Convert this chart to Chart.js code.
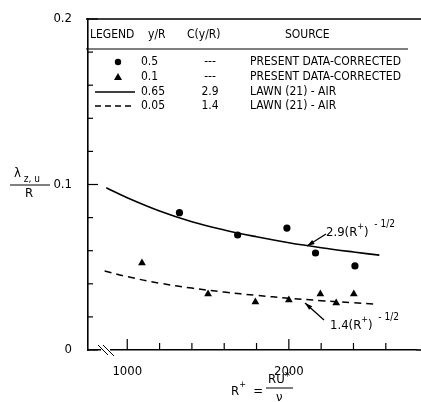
<!DOCTYPE html>
<html lang="en">
<head>
<meta charset="UTF-8" />
<title>Length scale vs R+</title>
<script src="https://cdn.jsdelivr.net/npm/chart.js"></script>
<style>
  html, body { margin: 0; padding: 0; background: #fff; }
  canvas { display: block; }
</style>
</head>
<body>
<canvas id="chart" width="421" height="402"></canvas>
<script>
  // values
  const circleX = [1323, 1683, 1988, 2165, 2409];
  const circleY = [0.083, 0.0695, 0.0737, 0.0586, 0.0508];

  const triangleX = [1091, 1500, 1793, 2000, 2195, 2293, 2402];
  const triangleY = [0.0526, 0.0338, 0.029, 0.0302, 0.0338, 0.0284, 0.0338];

  const solidX = [870, 1000, 1200, 1400, 1600, 1800, 2000, 2200, 2400, 2560];
  const solidY = [0.098, 0.092, 0.084, 0.0775, 0.0725, 0.0684, 0.0648, 0.0618, 0.0592, 0.0573];

  const dashedX = [860, 1000, 1200, 1400, 1600, 1800, 2000, 2200, 2400, 2530];
  const dashedY = [0.0477, 0.0443, 0.0404, 0.0374, 0.035, 0.033, 0.0313, 0.0298, 0.0286, 0.0278];

  const xTicks = [1000, 1200, 1400, 1600, 1800, 2000, 2200, 2400, 2600];
  const xLabels = { 1000: '1000', 2000: '2000' };
  const yTicks = [0, 0.02, 0.04, 0.06, 0.08, 0.1, 0.12, 0.14, 0.16, 0.18, 0.2];
  const yLabels = { 0: '0', 0.1: '0.1', 0.2: '0.2' };

  const legendRows = [
    ['circle', '0.5', '---', 'PRESENT DATA-CORRECTED'],
    ['triangle', '0.1', '---', 'PRESENT DATA-CORRECTED'],
    ['solid', '0.65', '2.9', 'LAWN (21) - AIR'],
    ['dashed', '0.05', '1.4', 'LAWN (21) - AIR']
  ];

  const FONT = '"Liberation Sans Narrow", "DejaVu Sans Condensed", sans-serif';
  const INK = '#000';

  const pts = (xs, ys) => xs.map((x, i) => ({ x: x, y: ys[i] }));

  // draws pieces [text, size, dy] one after another from x
  function rich(ctx, x, y, parts) {
    parts.forEach(p => {
      ctx.font = p[1] + 'px ' + FONT;
      ctx.fillText(p[0], x, y + (p[2] || 0));
      x += ctx.measureText(p[0]).width;
    });
  }

  function arrow(ctx, x1, y1, x2, y2) {
    const a = Math.atan2(y2 - y1, x2 - x1);
    ctx.beginPath();
    ctx.moveTo(x1, y1);
    ctx.lineTo(x2, y2);
    ctx.stroke();
    ctx.beginPath();
    ctx.moveTo(x2, y2);
    ctx.lineTo(x2 - 8 * Math.cos(a - 0.3), y2 - 8 * Math.sin(a - 0.3));
    ctx.lineTo(x2 - 8 * Math.cos(a + 0.3), y2 - 8 * Math.sin(a + 0.3));
    ctx.closePath();
    ctx.fill();
  }

  const extras = {
    id: 'extras',
    afterDraw(chart) {
      const ctx = chart.ctx;
      const xs = chart.scales.x, ys = chart.scales.y;
      const left = chart.chartArea.left, top = chart.chartArea.top;
      const bottom = chart.chartArea.bottom, right = chart.width;
      ctx.save();
      ctx.strokeStyle = INK;
      ctx.fillStyle = INK;

      // inward tick marks
      ctx.lineWidth = 1.2;
      yTicks.forEach(v => {
        const y = ys.getPixelForValue(v);
        const len = yLabels[v] !== undefined ? 10 : 5;
        ctx.beginPath(); ctx.moveTo(left, y); ctx.lineTo(left + len, y); ctx.stroke();
      });
      xTicks.forEach(v => {
        const x = xs.getPixelForValue(v);
        const len = xLabels[v] !== undefined ? 11 : 7;
        ctx.beginPath(); ctx.moveTo(x, bottom); ctx.lineTo(x, bottom - len); ctx.stroke();
      });

      // x axis runs on to the right edge
      ctx.lineWidth = 1.6;
      ctx.beginPath(); ctx.moveTo(chart.chartArea.right, bottom); ctx.lineTo(right, bottom); ctx.stroke();

      // axis break mark
      ctx.lineWidth = 1;
      ctx.fillStyle = '#fff';
      ctx.fillRect(101, bottom - 2, 9, 4);
      ctx.fillStyle = INK;
      ctx.beginPath(); ctx.moveTo(98, bottom - 5); ctx.lineTo(108, bottom + 5); ctx.stroke();
      ctx.beginPath(); ctx.moveTo(103, bottom - 5); ctx.lineTo(114, bottom + 6); ctx.stroke();

      // legend table
      ctx.lineWidth = 1.5;
      ctx.beginPath(); ctx.moveTo(left - 2, top); ctx.lineTo(right, top); ctx.stroke();
      ctx.lineWidth = 1;
      ctx.beginPath(); ctx.moveTo(left - 2, 49); ctx.lineTo(408, 49); ctx.stroke();

      ctx.font = '12px ' + FONT;
      ctx.textBaseline = 'middle';
      ctx.textAlign = 'left';
      ctx.fillText('LEGEND', 90, 35);
      ctx.fillText('y/R', 148, 35);
      ctx.fillText('C(y/R)', 187, 35);
      ctx.fillText('SOURCE', 285, 35);

      const rowY = [62, 77, 92, 106];
      legendRows.forEach((r, i) => {
        const y = rowY[i];
        if (r[0] === 'circle') {
          ctx.beginPath(); ctx.arc(118, y, 3.2, 0, Math.PI * 2); ctx.fill();
        } else if (r[0] === 'triangle') {
          ctx.beginPath(); ctx.moveTo(118, y - 4); ctx.lineTo(122, y + 3); ctx.lineTo(114, y + 3); ctx.closePath(); ctx.fill();
        } else {
          ctx.lineWidth = 1.3;
          ctx.setLineDash(r[0] === 'dashed' ? [6, 4] : []);
          ctx.beginPath(); ctx.moveTo(95, y); ctx.lineTo(135, y); ctx.stroke();
          ctx.setLineDash([]);
        }
        ctx.textAlign = 'left';
        ctx.fillText(r[1], 141, y);
        ctx.textAlign = 'center';
        ctx.fillText(r[2], 210, y);
        ctx.textAlign = 'left';
        ctx.fillText(r[3], 250, y);
      });

      // curve annotations
      ctx.lineWidth = 1.3;
      arrow(ctx, 326, 234, 307, 246);
      arrow(ctx, 324, 320, 305, 303);
      ctx.textAlign = 'left';
      rich(ctx, 326, 233, [['2.9(R', 13], ['+', 9, -6], [')', 13], ['  - 1/2', 10, -9]]);
      rich(ctx, 330, 326, [['1.4(R', 13], ['+', 9, -6], [')', 13], ['  - 1/2', 10, -9]]);

      // y axis title
      rich(ctx, 14, 174, [['\u03bb', 13], [' z, u', 10, 5]]);
      ctx.lineWidth = 1;
      ctx.beginPath(); ctx.moveTo(10, 185); ctx.lineTo(50, 185); ctx.stroke();
      rich(ctx, 25, 194, [['R', 13]]);

      // x axis title
      rich(ctx, 231, 392, [['R', 13], ['+', 9, -7], ['  =  ', 13]]);
      rich(ctx, 268, 380, [['RU', 13], ['*', 12, -3]]);
      ctx.beginPath(); ctx.moveTo(266, 388); ctx.lineTo(293, 388); ctx.stroke();
      rich(ctx, 276, 398, [['\u03bd', 13]]);

      ctx.restore();
    }
  };

  new Chart(document.getElementById('chart'), {
    type: 'scatter',
    data: {
      datasets: [
        {
          data: pts(circleX, circleY),
          pointStyle: 'circle', pointRadius: 3.6,
          backgroundColor: INK, borderColor: INK, borderWidth: 0
        },
        {
          data: pts(triangleX, triangleY),
          pointStyle: 'triangle', pointRadius: 4.5,
          backgroundColor: INK, borderColor: INK, borderWidth: 0
        },
        {
          data: pts(solidX, solidY),
          showLine: true, pointRadius: 0, tension: 0.4,
          borderColor: INK, borderWidth: 1.6
        },
        {
          data: pts(dashedX, dashedY),
          showLine: true, pointRadius: 0, tension: 0.4,
          borderColor: INK, borderWidth: 1.5, borderDash: [7, 5]
        }
      ]
    },
    options: {
      responsive: false,
      animation: false,
      devicePixelRatio: 1,
      layout: { padding: { top: 19, right: 0, left: 0, bottom: 0 } },
      plugins: { legend: { display: false }, tooltip: { enabled: false } },
      scales: {
        x: {
          type: 'linear', min: 757, max: 2790,
          afterFit: s => { s.height = 52; },
          afterBuildTicks: s => { s.ticks = xTicks.map(v => ({ value: v })); },
          grid: { display: false },
          border: { display: true, color: INK, width: 1.6 },
          ticks: {
            autoSkip: false, maxRotation: 0, padding: 6,
            color: INK, font: { family: FONT, size: 13 },
            callback: v => xLabels[v] || ''
          }
        },
        y: {
          min: 0, max: 0.2,
          afterFit: s => { s.width = 88; },
          afterBuildTicks: s => { s.ticks = yTicks.map(v => ({ value: v })); },
          grid: { display: false },
          border: { display: true, color: INK, width: 1.6 },
          ticks: {
            autoSkip: false, padding: 8,
            color: INK, font: { family: FONT, size: 13 },
            callback: v => yLabels[Math.round(v * 100) / 100] || ''
          }
        }
      }
    },
    plugins: [extras]
  });
</script>
</body>
</html>
